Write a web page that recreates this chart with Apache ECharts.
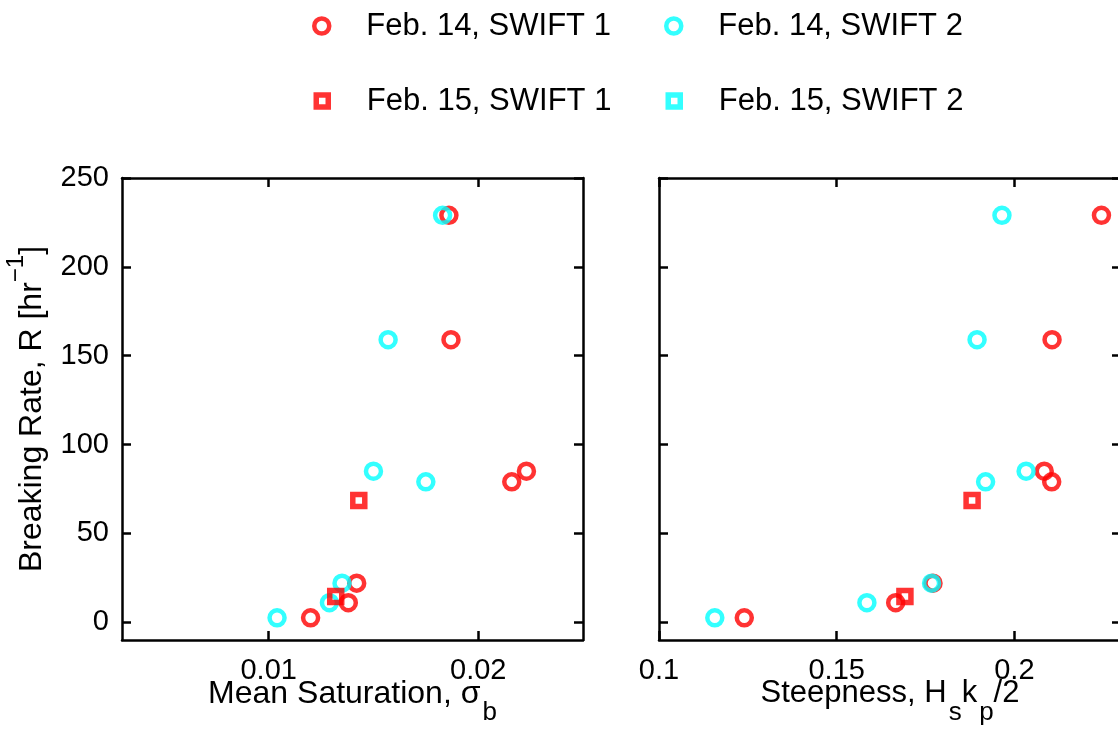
<!DOCTYPE html>
<html>
<head>
<meta charset="utf-8">
<script src="https://cdn.jsdelivr.net/npm/echarts@6/dist/echarts.min.js"></script>
<style>
  html, body { margin: 0; padding: 0; background: #fff; }
  #chart { width: 1118px; height: 729px; }
</style>
</head>
<body>
<div id="chart"></div>
<script>
// breaking rate R [1/hr], one value per burst
const ratesFeb14 = [229, 159, 85, 79, 22, 11, 2.5];
const ratesFeb15 = [68.5, 14.5];

// mean saturation sigma_b
const satFeb14Swift1 = [0.0186, 0.0187, 0.0223, 0.0216, 0.0142, 0.0138, 0.0120];
const satFeb14Swift2 = [0.0183, 0.0157, 0.0150, 0.0175, 0.0135, 0.0129, 0.0104];
const satFeb15Swift1 = [0.0143, 0.0132];
const satFeb15Swift2 = [];

// steepness Hs kp / 2
const steepFeb14Swift1 = [0.2245, 0.2106, 0.2084, 0.2105, 0.1771, 0.1666, 0.1240];
const steepFeb14Swift2 = [0.1965, 0.1895, 0.2033, 0.1919, 0.1767, 0.1585, 0.1157];
const steepFeb15Swift1 = [0.1881, 0.1692];
const steepFeb15Swift2 = [];

const yTicks = [0, 50, 100, 150, 200, 250];
const satTicks = [0.01, 0.02];
const steepTicks = [0.1, 0.15, 0.2];

const RED = "#ff0000";
const CYAN = "#00ffff";
const FONT = "Liberation Sans";

function pairs(xs, ys) {
  return xs.map((x, i) => [x, ys[i]]);
}

const groups = [
  { name: "Feb. 14, SWIFT 1", color: RED, symbol: "circle", sat: satFeb14Swift1, steep: steepFeb14Swift1, rates: ratesFeb14 },
  { name: "Feb. 14, SWIFT 2", color: CYAN, symbol: "circle", sat: satFeb14Swift2, steep: steepFeb14Swift2, rates: ratesFeb14 },
  { name: "Feb. 15, SWIFT 1", color: RED, symbol: "rect", sat: satFeb15Swift1, steep: steepFeb15Swift1, rates: ratesFeb15 },
  { name: "Feb. 15, SWIFT 2", color: CYAN, symbol: "rect", sat: satFeb15Swift2, steep: steepFeb15Swift2, rates: ratesFeb15 }
];

function markStyle(g) {
  const isCircle = g.symbol === "circle";
  return {
    symbol: g.symbol,
    symbolSize: isCircle ? 15 : 12,
    emphasis: { disabled: true },
    itemStyle: { color: "rgba(0,0,0,0)", borderColor: g.color, borderWidth: isCircle ? 4.5 : 5.5 }
  };
}

const series = [];
groups.forEach((g) => {
  series.push(Object.assign({
    name: g.name, type: "scatter", xAxisIndex: 0, yAxisIndex: 0,
    data: pairs(g.sat, g.rates)
  }, markStyle(g)));
});
groups.forEach((g) => {
  series.push(Object.assign({
    name: g.name, type: "scatter", xAxisIndex: 2, yAxisIndex: 2,
    data: pairs(g.steep, g.rates)
  }, markStyle(g)));
});

const legendSpots = [
  { left: 312, top: 8 },
  { left: 664, top: 8 },
  { left: 312, top: 83 },
  { left: 664, top: 83 }
];
const legends = groups.map((g, i) => {
  const isCircle = g.symbol === "circle";
  const size = isCircle ? 15 : 12;
  return {
    data: [g.name],
    left: legendSpots[i].left + (isCircle ? 0 : 1.5),
    top: legendSpots[i].top,
    padding: 0,
    selectedMode: false,
    itemWidth: size,
    itemHeight: size,
    itemStyle: { borderWidth: isCircle ? 4.5 : 5.5 },
    textStyle: {
      fontFamily: FONT, fontSize: 31, color: "#000", lineHeight: 36,
      padding: [0, 0, 0, isCircle ? 32 : 33.5]
    }
  };
});

const lineStyle = { color: "#000", width: 2.5 };
const axisLine = { show: true, onZero: false, lineStyle };
const tickStyle = { show: true, inside: true, length: 9, lineStyle: { color: "#000", width: 2.5 } };
const labelFont = { fontFamily: FONT, fontSize: 29, color: "#000" };

function nameRich(size) {
  return {
    t: { fontFamily: FONT, fontSize: size, color: "#000", verticalAlign: "top" },
    s: { fontFamily: FONT, fontSize: 26, color: "#000", verticalAlign: "top", padding: [22, 0, 0, 2] }
  };
}

function xPair(gridIndex, min, max, ticks, name, nameSize) {
  return [
    {
      type: "value", gridIndex, position: "bottom", min, max,
      name, nameLocation: "middle", nameGap: 38, nameMoveOverlap: false,
      nameTextStyle: { fontFamily: FONT, fontSize: nameSize, color: "#000", rich: nameRich(nameSize) },
      axisLine,
      axisTick: Object.assign({ customValues: ticks }, tickStyle),
      axisLabel: Object.assign({ customValues: ticks, margin: 16, formatter: (v) => String(+v.toFixed(3)) }, labelFont),
      splitLine: { show: false }
    },
    {
      type: "value", gridIndex, position: "top", min, max,
      axisLine,
      axisTick: Object.assign({ customValues: ticks }, tickStyle),
      axisLabel: { show: false },
      splitLine: { show: false }
    }
  ];
}

function yPair(gridIndex, withLabels) {
  const left = {
    type: "value", gridIndex, position: "left", min: -10, max: 250,
    axisLine,
    axisTick: Object.assign({ customValues: yTicks }, tickStyle),
    axisLabel: withLabels
      ? Object.assign({ customValues: yTicks, margin: 13 }, labelFont)
      : { show: false },
    splitLine: { show: false }
  };
  if (withLabels) {
    left.name = "{t|Breaking Rate, R [hr}{u|\u22121}{t|]}";
    left.nameLocation = "middle";
    left.nameGap = 74;
    left.nameMoveOverlap = false;
    left.nameTextStyle = {
      fontFamily: FONT, fontSize: 32, color: "#000",
      rich: {
        t: { fontFamily: FONT, fontSize: 32, color: "#000", verticalAlign: "top", padding: [12, 0, 0, 0] },
        u: { fontFamily: FONT, fontSize: 24, color: "#000", verticalAlign: "top" }
      }
    };
  }
  const right = {
    type: "value", gridIndex, position: "right", min: -10, max: 250,
    axisLine,
    axisTick: Object.assign({ customValues: yTicks }, tickStyle),
    axisLabel: { show: false },
    splitLine: { show: false }
  };
  return [left, right];
}

const chart = echarts.init(document.getElementById("chart"), null, { renderer: "canvas" });
chart.setOption({
  backgroundColor: "#fff",
  animation: false,
  legend: legends,
  grid: [
    { left: 122, top: 178, width: 461, height: 462, outerBoundsMode: "none", containLabel: false },
    { left: 659, top: 178, width: 462, height: 462, outerBoundsMode: "none", containLabel: false }
  ],
  xAxis: [].concat(
    xPair(0, 0.003, 0.025, satTicks, "{t|Mean Saturation, \u03c3}{s|b}", 32),
    xPair(1, 0.1, 0.23, steepTicks, "{t|Steepness, H}{s|s}{t|k}{s|p}{t|/2}", 31)
  ),
  yAxis: [].concat(yPair(0, true), yPair(1, false)),
  series: series
});
</script>
</body>
</html>
